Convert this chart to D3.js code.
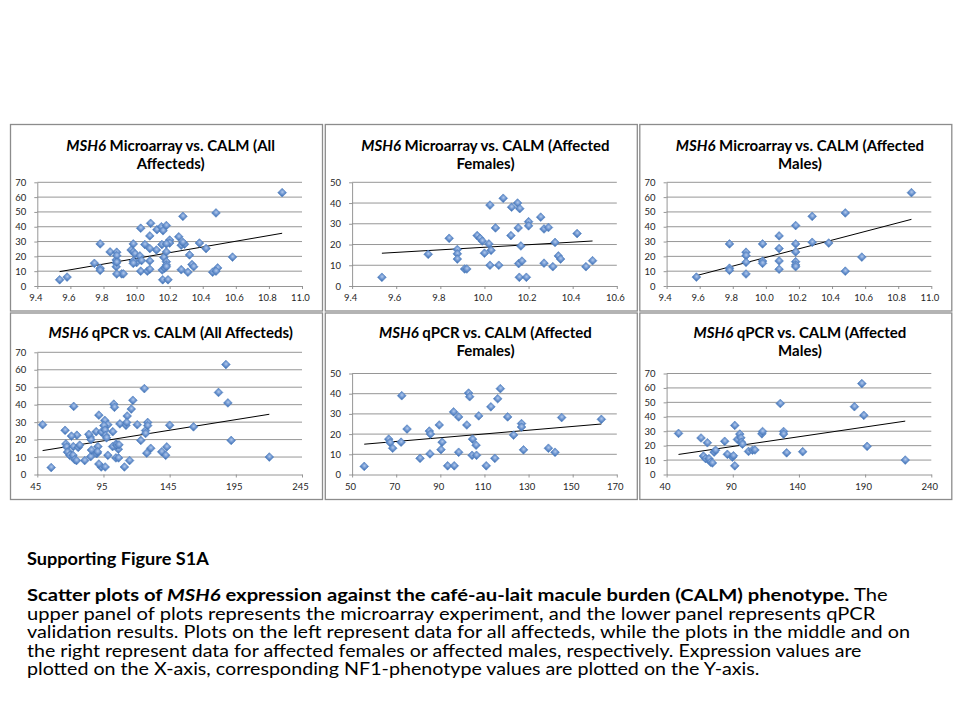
<!DOCTYPE html>
<html><head><meta charset="utf-8">
<script src="https://cdn.jsdelivr.net/npm/d3@7"></script>
<style>body{margin:0;background:#fff} svg{display:block}</style>
</head><body>
<svg id="c" width="960" height="720"></svg>
<script>
// ---------- DATA ----------
// Microarray expression vs CALM, affected females
const microFemales = [[9.535,4.2],[9.745,15.3],[9.84,23],[9.877,17.6],[9.877,15.5],[9.877,13],[9.91,8.2],[9.92,8.2],
 [9.967,24.3],[9.98,23],[9.99,21.7],[10.0,15.8],[10.02,20.3],[10.025,39],[10.025,10],[10.03,17.2],[10.05,28],
 [10.065,10],[10.085,42.3],[10.12,24.3],[10.123,38],[10.15,40],[10.16,37.3],[10.153,28],[10.155,10.8],[10.158,4.2],
 [10.165,19.3],[10.17,12],[10.19,4.2],[10.2,31],[10.2,29],[10.255,33.2],[10.27,27.5],[10.27,11],[10.29,28.2],
 [10.31,9.3],[10.32,21],[10.335,14.5],[10.345,13],[10.42,25.3],[10.46,9.3],[10.49,12.2]];
// Microarray expression vs CALM, affected males
const microMales = [[9.58,6],[9.78,28.4],[9.78,12],[9.78,10.6],[9.88,22.8],[9.88,20.5],[9.88,16],[9.88,8.1],
 [9.98,28.4],[9.98,16.8],[9.98,15.3],[10.08,33.8],[10.08,25.3],[10.08,16.9],[10.08,11.3],[10.18,40.8],[10.18,28.4],
 [10.18,23],[10.18,16.4],[10.18,14.2],[10.18,13],[10.28,47],[10.28,29.5],[10.38,29],[10.48,49.3],[10.48,10],
 [10.58,19.5],[10.88,63]];
// qPCR expression vs CALM, affected females
const qpcrFemales = [[55.5,4],[66.6,17.5],[67.2,15.8],[68.4,13],[72.5,39],[72.2,16],[74.9,22.5],[80.8,8],[85,21.5],
 [85.5,20],[85.3,10.2],[89.5,24.5],[90.3,12.3],[90.8,16],[93.3,4.3],[96,31],[96.3,4.3],[98.3,28.5],[98.3,11],
 [102,24.5],[102.8,40.3],[103.3,38.5],[104.6,17.5],[104.4,9.5],[106.2,14.5],[106.4,9.5],[107.4,29],[110.8,4.3],
 [112.9,33.5],[114.7,8],[116,37.5],[117.2,42.5],[120.5,28.5],[123.2,19.5],[126.8,25.2],[126.8,23.5],[127.7,12.2],
 [139,13],[142,11],[145,28.2],[163,27.3]];
// qPCR expression vs CALM, affected males
const qpcrMales = [[49,28.5],[66,25.3],[67.8,12.8],[69.5,11],[70.8,22],[72,11],[73.3,8.5],[74.6,8],[75.9,15.5],
 [77,16.8],[83.9,23],[85.9,14],[89.7,12],[90.5,13],[91.5,6],[91.5,34],[93.5,24.3],[95.3,28],[96.1,25.4],[96.6,22.4],
 [97.3,21],[101.9,16],[104.9,16.8],[106.7,17],[112,28.2],[112.5,29.8],[125.9,49.2],[128.4,29.8],[128.4,28],
 [130.7,15],[142.8,15.8],[181.9,47],[187.5,63],[189,41],[191.5,19.5],[220.3,10]];
// All affecteds = females + males
const microAll = microFemales.concat(microMales);
const qpcrAll = qpcrFemales.concat(qpcrMales);

// Linear trend lines (end points)
const trendMicroAll = [[9.535,9.7],[10.88,35.6]];
const trendMicroF   = [[9.535,15.8],[10.49,21.7]];
const trendMicroM   = [[9.58,7],[10.88,45]];
const trendQpcrAll  = [[49,13.7],[220.3,34.5]];
const trendQpcrF    = [[55.5,15],[163,25]];
const trendQpcrM    = [[49,13.9],[220.3,37]];

// Tick values
const xTicksMicro11 = [9.4,9.6,9.8,10.0,10.2,10.4,10.6,10.8,11.0];
const xTicksMicro106 = [9.4,9.6,9.8,10.0,10.2,10.4,10.6];
const xTicksQpcrAll = [45,95,145,195,245];
const xTicksQpcrF = [50,70,90,110,130,150,170];
const xTicksQpcrM = [40,90,140,190,240];
const yTicks70 = [0,10,20,30,40,50,60,70];
const yTicks50 = [0,10,20,30,40,50];

// ---------- LAYOUT ----------
const PW = 312, PH = 186.5;
const colX = [10.5, 325.3, 639.8];
const rowY = [124.5, 313];
const fmt1 = d3.format(".1f"), fmt0 = d3.format("d");

const panels = [
 {c:0,r:0,data:microAll,trend:trendMicroAll,xt:xTicksMicro11,yt:yTicks70,f:fmt1,top:57.8,
  title:[[["MSH6",true],[" Microarray vs. CALM (All",false]],[["Affecteds)",false]]]},
 {c:1,r:0,data:microFemales,trend:trendMicroF,xt:xTicksMicro106,yt:yTicks50,f:fmt1,top:57.8,
  title:[[["MSH6",true],[" Microarray vs. CALM (Affected",false]],[["Females)",false]]]},
 {c:2,r:0,data:microMales,trend:trendMicroM,xt:xTicksMicro11,yt:yTicks70,f:fmt1,top:57.8,
  title:[[["MSH6",true],[" Microarray vs. CALM (Affected",false]],[["Males)",false]]]},
 {c:0,r:1,data:qpcrAll,trend:trendQpcrAll,xt:xTicksQpcrAll,yt:yTicks70,f:fmt0,top:39.3,
  title:[[["MSH6",true],[" qPCR vs. CALM (All Affecteds)",false]]]},
 {c:1,r:1,data:qpcrFemales,trend:trendQpcrF,xt:xTicksQpcrF,yt:yTicks50,f:fmt0,top:60.5,
  title:[[["MSH6",true],[" qPCR vs. CALM (Affected",false]],[["Females)",false]]]},
 {c:2,r:1,data:qpcrMales,trend:trendQpcrM,xt:xTicksQpcrM,yt:yTicks70,f:fmt0,top:60.5,
  title:[[["MSH6",true],[" qPCR vs. CALM (Affected",false]],[["Males)",false]]]}
];

const FONT = "Lato, 'Liberation Sans', sans-serif";
const svg = d3.select("#c");
svg.append("rect").attr("width",960).attr("height",720).attr("fill","#fff");
const defs = svg.append("defs");
const grad = defs.append("radialGradient").attr("id","mk").attr("cx","45%").attr("cy","40%").attr("r","65%");
grad.append("stop").attr("offset","0%").attr("stop-color","#b3caec");
grad.append("stop").attr("offset","55%").attr("stop-color","#7198d2");
grad.append("stop").attr("offset","100%").attr("stop-color","#4676b8");

const L = 26.8, R = 291.5, B = 161.5;
const diamond = d3.symbol().type(d3.symbolSquare).size(38);

panels.forEach(p => {
  const g = svg.append("g").attr("transform",`translate(${colX[p.c]},${rowY[p.r]})`);
  g.append("rect").attr("x",0).attr("y",0).attr("width",PW).attr("height",PH)
    .attr("fill","#fff").attr("stroke","#8c8c8c").attr("stroke-width",1.3);

  const x = d3.scaleLinear().domain([p.xt[0], p.xt[p.xt.length-1]]).range([L,R]);
  const y = d3.scaleLinear().domain([0, p.yt[p.yt.length-1]]).range([B,p.top]);

  // gridlines
  g.append("g").selectAll("line").data(p.yt.filter(v=>v>0)).join("line")
    .attr("x1",L).attr("x2",R).attr("y1",d=>y(d)).attr("y2",d=>y(d))
    .attr("stroke","#8a8a8a").attr("stroke-width",0.9);

  // axes
  const xa = g.append("g").attr("transform",`translate(0,${B})`)
    .call(d3.axisBottom(x).tickValues(p.xt).tickFormat(p.f).tickSizeInner(3).tickSizeOuter(0).tickPadding(5.5));
  const ya = g.append("g").attr("transform",`translate(${L},0)`)
    .call(d3.axisLeft(y).tickValues(p.yt).tickFormat(fmt0).tickSizeInner(3).tickSizeOuter(0).tickPadding(8));
  [xa,ya].forEach(a=>{
    a.select(".domain").attr("stroke","#8a8a8a").attr("stroke-width",0.9);
    a.selectAll(".tick line").attr("stroke","#8a8a8a").attr("stroke-width",0.9);
    a.selectAll(".tick text").attr("fill","#262626").style("font-family",FONT)
      .style("font-size","9.5px");
  });
  xa.selectAll(".tick text").attr("dx",-2);

  // title
  const cx = (L+R)/2 + 1;
  const baseY = p.r===0 ? 26.5 : 25.3;
  p.title.forEach((line,i)=>{
    const t = g.append("text").attr("x",cx).attr("y",baseY + i*17.6).attr("text-anchor","middle")
      .style("font-family",FONT).style("font-size","15px")
      .style("font-weight","bold").attr("fill","#000");
    line.forEach(seg=>{
      t.append("tspan").text(seg[0]).style("font-style",seg[1]?"italic":"normal");
    });
  });

  // trend line
  g.append("path").datum(p.trend)
    .attr("d", d3.line().x(d=>x(d[0])).y(d=>y(d[1])))
    .attr("stroke","#000").attr("stroke-width",1).attr("fill","none");

  // markers
  g.append("g").selectAll("path").data(p.data).join("path")
    .attr("d",diamond)
    .attr("transform",d=>`translate(${x(d[0])},${y(d[1])}) rotate(45)`)
    .attr("fill","url(#mk)").attr("stroke","#5683c2").attr("stroke-width",0.6);
});

// ---------- CAPTION ----------
const capLines = [
  {y:565, w:182, segs:[["Supporting Figure S1A","bold","normal"]]},
  {y:601, w:861, segs:[["Scatter plots of ","bold","normal"],["MSH6","bold","italic"],
     [" expression against the café-au-lait macule burden (CALM) phenotype.","bold","normal"],[" The","normal","normal"]]},
  {y:619.5, w:849, segs:[["upper panel of plots represents the microarray experiment, and the lower panel represents qPCR","normal","normal"]]},
  {y:638, w:884, segs:[["validation results. Plots on the left represent data for all affecteds, while the plots in the middle and on","normal","normal"]]},
  {y:656.5, w:835, segs:[["the right represent data for affected females or affected males, respectively. Expression values are","normal","normal"]]},
  {y:675, w:733, segs:[["plotted on the X-axis, corresponding NF1-phenotype values are plotted on the Y-axis.","normal","normal"]]}
];
capLines.forEach(l=>{
  const g = svg.append("g").attr("transform",`translate(27,${l.y})`);
  const t = g.append("text").attr("x",0).attr("y",0)
    .style("font-family",FONT).style("font-size","16.5px").attr("fill","#000");
  l.segs.forEach(s=>t.append("tspan").text(s[0]).style("font-weight",s[1]).style("font-style",s[2]));
  const nat = t.node().getComputedTextLength();
  // Calibri-like proportions: fit each line to the measured width
  const sx = l.w / nat;
  g.attr("transform",`translate(27,${l.y}) scale(${sx.toFixed(4)},1)`);
});
</script>
</body></html>
